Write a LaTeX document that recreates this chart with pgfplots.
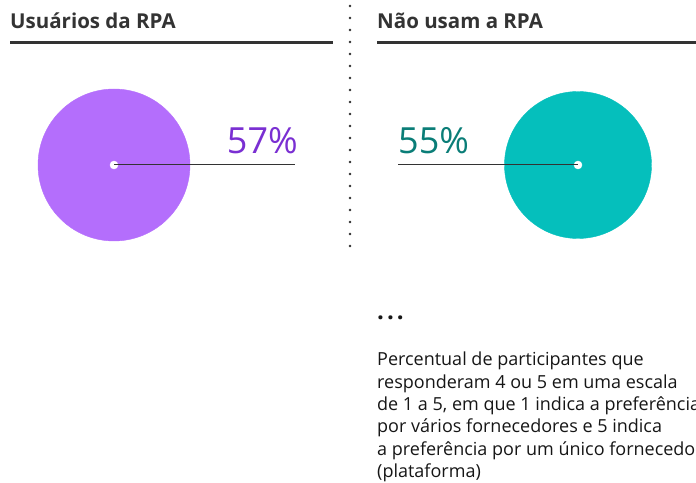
\documentclass[border=0pt]{standalone}
\usepackage{fontspec}
\setmainfont{Open Sans}
\usepackage{pgfplots}
\pgfplotsset{compat=1.18}
\definecolor{purpC}{HTML}{B46EFC}
\definecolor{purpT}{HTML}{7A2FD2}
\definecolor{tealC}{HTML}{05BFBC}
\definecolor{tealT}{HTML}{0A7D77}
\definecolor{darkline}{HTML}{333333}
\definecolor{txt}{HTML}{161616}
\begin{document}
\begin{tikzpicture}
\begin{axis}[
  width=696pt, height=482pt, scale only axis,
  xmin=0, xmax=696, ymin=0, ymax=482, y dir=reverse,
  hide axis, clip=false, set layers,
]
% headers
\node[anchor=base west, font=\fontsize{20.5}{23}\selectfont\bfseries, text=darkline, inner sep=0pt] at (axis cs:10,29) {Usuários da RPA};
\node[anchor=base west, font=\fontsize{20.5}{23}\selectfont\bfseries, text=darkline, inner sep=0pt] at (axis cs:377,29) {Não usam a RPA};
\addplot[darkline, line width=3pt] coordinates {(10,43) (333,43)};
\addplot[darkline, line width=3pt] coordinates {(377,43) (696,43)};
% dotted separator
\addplot[only marks, mark=*, mark size=1pt, darkline] coordinates {
(350,6) (350,18) (350,30) (350,42) (350,54) (350,66) (350,78) (350,90) (350,102) (350,114) (350,126) (350,138) (350,150) (350,162) (350,174) (350,186) (350,198) (350,210) (350,222) (350,234) (350,246)};
% bubbles
\addplot[only marks, mark=*, mark size=76pt, color=purpC, mark options={draw=none, fill=purpC}] coordinates {(114,165)};
\addplot[only marks, mark=*, mark size=73.5pt, color=tealC, mark options={draw=none, fill=tealC}] coordinates {(578,165)};
% leader lines
\addplot[darkline, line width=1pt, on layer=axis foreground] coordinates {(114,165) (295,165)};
\addplot[darkline, line width=1pt, on layer=axis foreground] coordinates {(398,165) (578,165)};
% center dots
\addplot[only marks, mark=*, mark size=4pt, color=white, mark options={draw=white, fill=white}, on layer=axis foreground] coordinates {(114,165) (578,165)};
% values
\node[anchor=base east, font=\fontsize{36}{40}\selectfont, text=purpT, inner sep=0pt] at (axis cs:298,154) {57\%};
\node[anchor=base west, font=\fontsize{36}{40}\selectfont, text=tealT, inner sep=0pt] at (axis cs:398,154) {55\%};
% ellipsis
\node[anchor=base west, font=\fontsize{24}{26}\selectfont\bfseries, text=txt, inner sep=0pt] at (axis cs:377,320) {.\hspace{3pt}.\hspace{3pt}.};
% note
\node[anchor=north west, align=left, font=\fontsize{18}{22.3}\selectfont, text=txt, inner sep=0pt] at (axis cs:377,352) {Percentual de participantes que\\responderam 4 ou 5 em uma escala\\de 1 a 5, em que 1 indica a preferência\\por vários fornecedores e 5 indica\\a preferência por um único fornecedor\\(plataforma)};
\coordinate (BL) at (axis cs:0,482);
\coordinate (TR) at (axis cs:696,0);
\end{axis}
\pgfresetboundingbox
\useasboundingbox (BL) rectangle (TR);
\end{tikzpicture}
\end{document}
